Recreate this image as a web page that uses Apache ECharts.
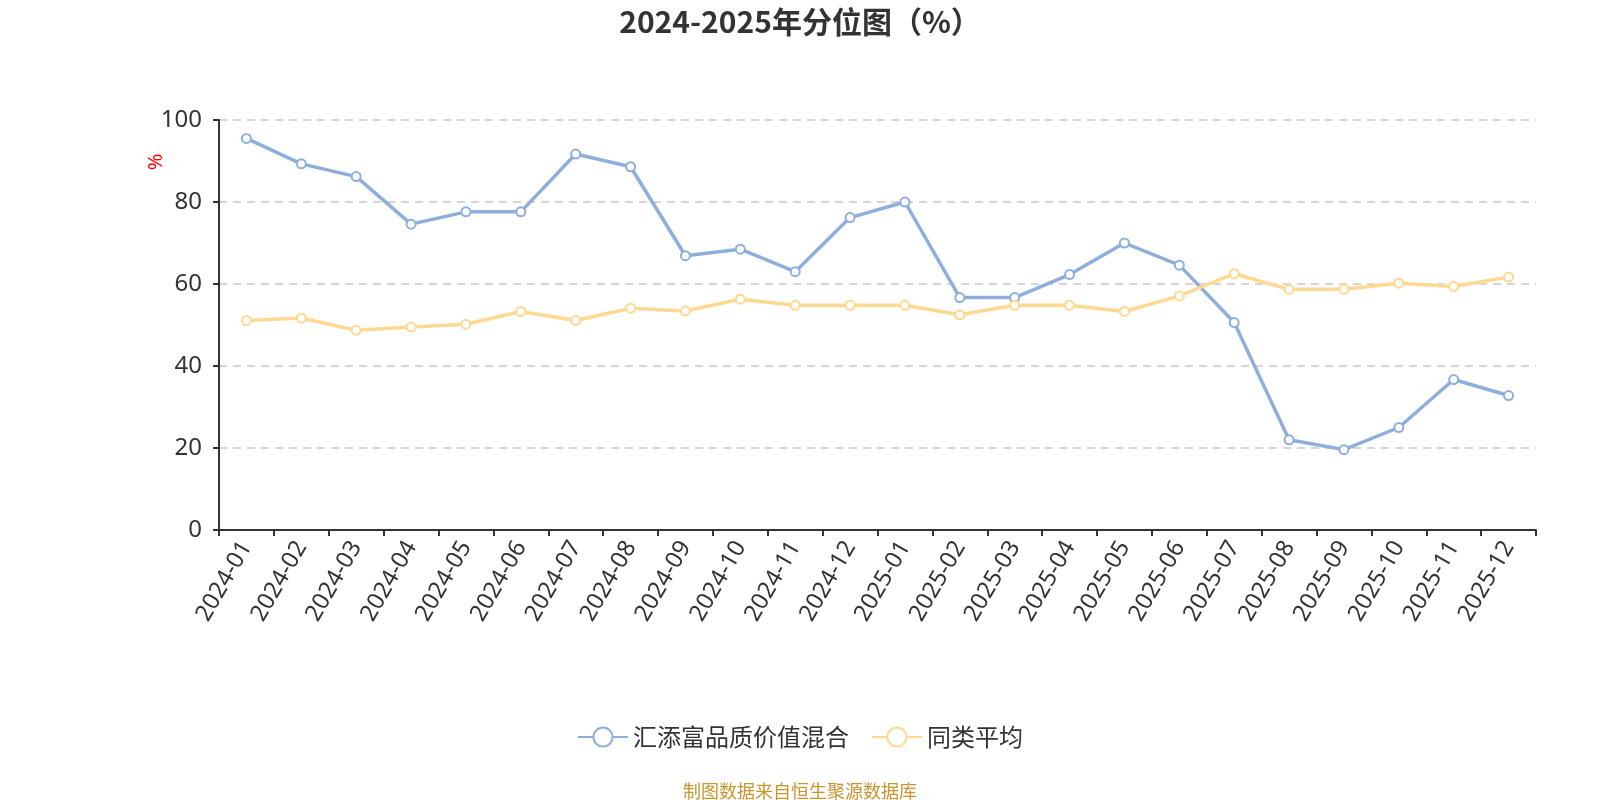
<!DOCTYPE html>
<html><head><meta charset="utf-8">
<script src="https://cdn.jsdelivr.net/npm/echarts@6/dist/echarts.min.js"></script>
<style>html,body{margin:0;padding:0;background:#fff}#c{width:1600px;height:800px}</style>
</head><body><div id="c"></div>
<script>
const categories = ['2024-01','2024-02','2024-03','2024-04','2024-05','2024-06','2024-07','2024-08','2024-09','2024-10','2024-11','2024-12','2025-01','2025-02','2025-03','2025-04','2025-05','2025-06','2025-07','2025-08','2025-09','2025-10','2025-11','2025-12'];
const fundValues = [95.5,89.3,86.2,74.6,77.6,77.6,91.7,88.6,66.9,68.5,63.0,76.2,80.0,56.7,56.7,62.3,70.0,64.6,50.6,22.0,19.6,25.0,36.7,32.8];
const avgValues = [51.1,51.7,48.7,49.5,50.2,53.3,51.1,54.1,53.4,56.3,54.8,54.8,54.8,52.5,54.8,54.8,53.3,57.1,62.5,58.7,58.7,60.2,59.4,61.7];
const seriesNames = ['汇添富品质价值混合','同类平均'];
const yTicks = {min:0, max:100, interval:20};

const cjk = '"Noto Sans CJK SC",sans-serif';
const num = '"Noto Sans","Noto Sans CJK SC",sans-serif';
const chart = echarts.init(document.getElementById('c'));
chart.setOption({
  backgroundColor:'#fff',
  title:{text:'2024-2025年分位图（%）', left:'center', top:2,
    textStyle:{fontSize:30, fontWeight:'bold', color:'#333', fontFamily:cjk}},
  grid:{left:219, right:64, top:120, bottom:270, containLabel:false},
  legend:{bottom:46, left:'center', itemWidth:50, itemHeight:24, itemGap:22,
    textStyle:{fontSize:24, color:'#333', fontFamily:cjk},
    lineStyle:{width:2}, itemStyle:{borderWidth:2},
    data:seriesNames},
  graphic:[
    {type:'text', left:'center', bottom:0,
      style:{text:'制图数据来自恒生聚源数据库', fill:'#c8952e', fontSize:18, fontFamily:cjk}},
    {type:'text', x:156, y:162, rotation:Math.PI/2,
      style:{text:'%', fill:'red', fontSize:20, fontFamily:num, align:'center', verticalAlign:'middle'}}
  ],
  xAxis:{type:'category', data:categories, boundaryGap:true,
    axisLine:{lineStyle:{color:'#333', width:2}},
    axisTick:{show:true, length:6, lineStyle:{color:'#333', width:2}},
    axisLabel:{rotate:60, fontSize:23.5, color:'#333', margin:13, interval:0, fontFamily:num}},
  yAxis:{type:'value', min:yTicks.min, max:yTicks.max, interval:yTicks.interval,
    axisLine:{show:true, lineStyle:{color:'#333', width:2}},
    axisTick:{show:true, length:6, lineStyle:{color:'#333', width:2}},
    axisLabel:{fontSize:24, color:'#333', margin:17, fontFamily:num},
    splitLine:{lineStyle:{type:[8,6], color:'#c8c8c8', width:1.5}}},
  series:[
    {name:seriesNames[0], type:'line', data:fundValues, symbol:'emptyCircle', symbolSize:9,
      lineStyle:{color:'#8eaedc', width:3.5}, itemStyle:{color:'#8eaedc', borderWidth:2}},
    {name:seriesNames[1], type:'line', data:avgValues, symbol:'emptyCircle', symbolSize:9,
      lineStyle:{color:'#ffd892', width:3.5}, itemStyle:{color:'#ffd892', borderWidth:2}}
  ]
});
</script></body></html>
